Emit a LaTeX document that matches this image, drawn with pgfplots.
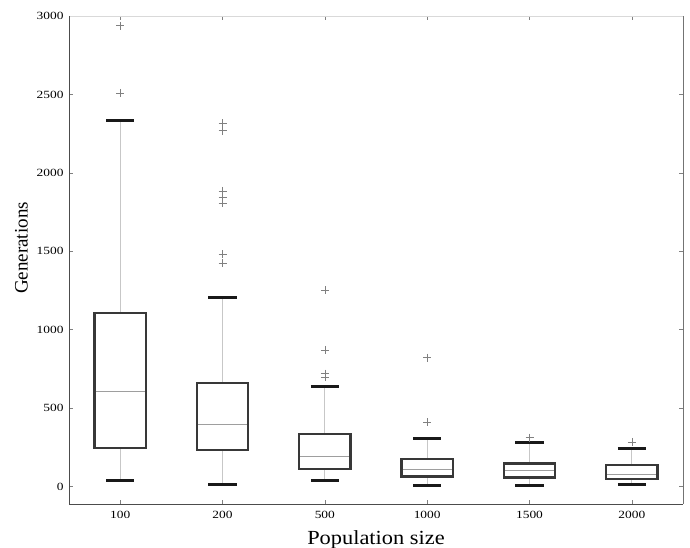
\documentclass[border=0pt]{standalone}
\usepackage{pgfplots}
\pgfplotsset{compat=1.18}
\usepackage{fontspec}
\setmainfont{Liberation Serif}
\newfontfamily\tickfont[FakeStretch=1.22]{Liberation Serif}
\newfontfamily\labfont[FakeStretch=1.12]{Liberation Serif}

\begin{document}
\begin{tikzpicture}
\begin{axis}[
  name=ax,
  scale only axis,
  width=614pt, height=488pt,
  xmin=0.5, xmax=6.5,
  ymin=-112, ymax=3000,
  xtick={1,2,3,4,5,6},
  xticklabels={100,200,500,1000,1500,2000},
  ytick={0,500,1000,1500,2000,2500,3000},
  tick align=inside,
  major tick length=4pt,
  tick style={black!50, line width=0.6pt},
  axis line style={draw=none},
  ticklabel style={font=\tickfont\fontsize{11}{11}\selectfont},
  xticklabel style={anchor=base, yshift=-15pt},
  yticklabel style={anchor=east, xshift=-2pt},
  /pgf/number format/assume math mode=true,
  /pgf/number format/1000 sep={},
  xlabel={Population size},
  ylabel={Generations},
  xlabel style={font=\labfont\fontsize{20}{20}\selectfont,
    at={(axis description cs:0.5,-0.084)}, anchor=base},
  ylabel style={font=\fontsize{19}{19}\selectfont,
    at={(axis description cs:-0.0673,0.5246)}, anchor=base},
  unbounded coords=jump,
  after end axis/.code={
    \draw[black!15, line width=0.8pt] (rel axis cs:0,1) -- (rel axis cs:1,1);
    \draw[black!55, line width=0.8pt] (rel axis cs:1,0) -- (rel axis cs:1,1);
    \draw[black!70, line width=0.8pt] (rel axis cs:0,1) -- (rel axis cs:0,0) -- (rel axis cs:1,0);
  },
]
  % whiskers (quartile to whisker end), one group per population size
  \addplot[black!22, line width=1.1pt] coordinates {
    (1,38) (1,246) (1,nan) (1,1107) (1,2335) (1,nan)
    (2,11) (2,231) (2,nan) (2,659) (2,1203) (2,nan)
    (3,36) (3,110) (3,nan) (3,335) (3,636) (3,nan)
    (4,6) (4,64) (4,nan) (4,176) (4,305) (4,nan)
    (5,6) (5,57) (5,nan) (5,146) (5,278) (5,nan)
    (6,13) (6,47) (6,nan) (6,136) (6,244)
  };
  % whisker caps
  \addplot[black!90, line width=3pt] coordinates {
    (0.8625,38) (1.1375,38) (1,nan) (0.8625,2335) (1.1375,2335) (1,nan)
    (1.8625,11) (2.1375,11) (2,nan) (1.8625,1203) (2.1375,1203) (2,nan)
    (2.8625,36) (3.1375,36) (3,nan) (2.8625,636) (3.1375,636) (3,nan)
    (3.8625,6) (4.1375,6) (4,nan) (3.8625,305) (4.1375,305) (4,nan)
    (4.8625,6) (5.1375,6) (5,nan) (4.8625,278) (5.1375,278) (5,nan)
    (5.8625,13) (6.1375,13) (6,nan) (5.8625,244) (6.1375,244)
  };
  % boxes: lower quartile to upper quartile
  \addplot[black!78, line width=2.2pt, line cap=rect, line join=miter] coordinates {
    (0.75,246) (1.25,246) (1.25,1107) (0.75,1107) (0.75,246) (1,nan)
    (1.75,231) (2.25,231) (2.25,659) (1.75,659) (1.75,231) (2,nan)
    (2.75,110) (3.25,110) (3.25,335) (2.75,335) (2.75,110) (3,nan)
    (3.75,64) (4.25,64) (4.25,176) (3.75,176) (3.75,64) (4,nan)
    (4.75,57) (5.25,57) (5.25,146) (4.75,146) (4.75,57) (5,nan)
    (5.75,47) (6.25,47) (6.25,136) (5.75,136) (5.75,47)
  };
  % medians
  \addplot[black!38, line width=0.8pt] coordinates {
    (0.76,608) (1.24,608) (1,nan)
    (1.76,397) (2.24,397) (2,nan)
    (2.76,189) (3.24,189) (3,nan)
    (3.76,108) (4.24,108) (4,nan)
    (4.76,102) (5.24,102) (5,nan)
    (5.76,76) (6.24,76)
  };
  % outliers
  \addplot[only marks, mark=+, mark options={black!50, line width=0.6pt}, mark size=4pt] coordinates {
    (1,2938) (1,2510)
    (2,2317) (2,2268) (2,1884) (2,1844) (2,1806) (2,1480) (2,1425)
    (3,1252) (3,871) (3,720) (3,699)
    (4,822) (4,409)
    (5,311)
    (6,284)
  };
\end{axis}
\pgfresetboundingbox
\path[use as bounding box] ([xshift=-69pt,yshift=-44pt]ax.south west)
  rectangle ([xshift=7pt,yshift=16pt]ax.north east);
\end{tikzpicture}
\end{document}
